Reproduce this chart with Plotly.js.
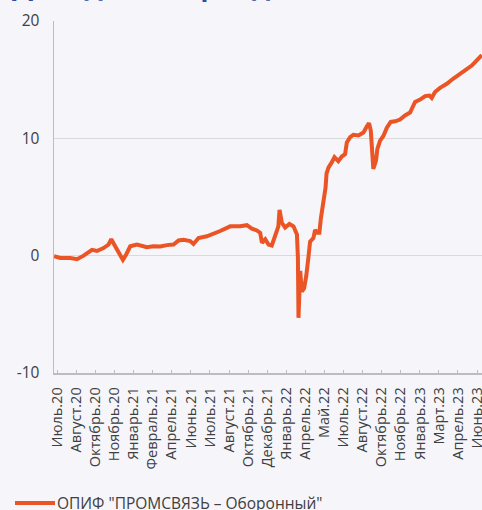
<!DOCTYPE html>
<html>
<head>
<meta charset="utf-8">
<script src="https://cdn.plot.ly/plotly-3.0.1.min.js"></script>
<style>
html,body{margin:0;padding:0;background:#F5F5FA;}
#chart{width:482px;height:510px;}
</style>
</head>
<body>
<div id="chart"></div>
<script>
// Tick labels (category positions 0..22)
const tickLabels = ["Июль.20","Август.20","Октябрь.20","Ноябрь.20","Январь.21","Февраль.21","Апрель.21","Июнь.21","Июль.21","Август.21","Октябрь.21","Декабрь.21","Январь.22","Апрель.22","Май.22","Июль.22","Август.22","Октябрь.22","Ноябрь.22","Январь.23","Март.23","Апрель.23","Июнь.23"];
const tickPositions = tickLabels.map((_, i) => 0.078 + 0.9866 * i);

// Series position (in label units) and value
const xPos = [-0.09,0.23,0.75,1.10,1.44,1.61,1.87,2.13,2.47,2.73,2.87,3.07,3.33,3.47,3.64,3.85,4.20,4.71,5.05,5.40,5.75,6.09,6.35,6.60,6.95,7.12,7.38,7.81,8.50,9.02,9.53,9.88,10.14,10.40,10.57,10.66,10.83,11.00,11.17,11.34,11.51,11.57,11.69,11.86,12.08,12.29,12.47,12.52,12.55,12.64,12.72,12.84,12.95,13.06,13.15,13.32,13.41,13.50,13.63,13.71,13.84,13.95,14.00,14.10,14.27,14.41,14.61,14.79,14.96,15.05,15.22,15.39,15.65,15.91,16.08,16.20,16.29,16.34,16.42,16.56,16.63,16.77,16.94,17.12,17.32,17.55,17.80,18.06,18.32,18.58,18.84,19.10,19.32,19.44,19.61,19.87,20.22,20.56,20.90,21.25,21.51,21.77,22.03];
const fundValues = [-0.05,-0.2,-0.2,-0.3,0.0,0.2,0.5,0.4,0.65,0.95,1.4,0.8,0.15,-0.35,0.1,0.8,0.95,0.72,0.8,0.78,0.9,0.95,1.3,1.35,1.25,1.0,1.5,1.65,2.1,2.5,2.5,2.6,2.3,2.15,1.95,1.1,1.4,0.95,0.87,1.8,2.5,3.9,2.8,2.4,2.7,2.5,1.8,-0.2,-5.3,-1.3,-3.05,-2.8,-1.75,-0.2,1.2,1.5,2.2,1.95,1.95,3.2,4.6,5.8,7.0,7.5,7.95,8.4,8.05,8.45,8.65,9.65,10.1,10.3,10.25,10.5,11.0,11.3,10.65,9.4,7.4,8.1,9.1,9.8,10.2,10.9,11.4,11.45,11.6,11.95,12.2,13.1,13.3,13.6,13.65,13.45,13.95,14.3,14.65,15.1,15.5,15.95,16.2,16.65,17.1];

const seriesName = 'ОПИФ "ПРОМСВЯЗЬ – Оборонный"';
const titleText = 'Доходность фонда';

const FONT = 'Open Sans, sans-serif';
const LINE_COLOR = '#EB5424';

const trace = {
  x: xPos, y: fundValues, type: 'scatter', mode: 'lines',
  name: seriesName, showlegend: false,
  line: {color: LINE_COLOR, width: 4, shape: 'linear'}
};

const legendY = (373 - 503) / 352;

const layout = {
  width: 482, height: 510,
  paper_bgcolor: '#F5F5FA', plot_bgcolor: '#F5F5FA',
  margin: {l: 54, r: 0, t: 21, b: 137},
  font: {family: FONT, color: '#404040'},
  showlegend: false,
  xaxis: {
    range: [-0.093, 22.04], tickmode: 'array', tickvals: tickPositions, ticktext: tickLabels,
    tickangle: -90, tickfont: {family: FONT, size: 14.5, color: '#404040'},
    ticklabeloverflow: 'allow',
    showgrid: false, zeroline: false, showline: true, linecolor: '#BDBDBD', linewidth: 1.5,
    ticks: 'inside', ticklen: 3, tickcolor: '#BDBDBD', ticklabelstandoff: 7
  },
  yaxis: {
    range: [-10, 20], tickvals: [-10, 0, 10, 20], ticktext: ['-10','0','10','20'],
    tickfont: {family: FONT, size: 15.5, color: '#404040'},
    showgrid: true, gridcolor: '#DADADA', gridwidth: 1.5,
    zeroline: true, zerolinecolor: '#DADADA', zerolinewidth: 1.5,
    showline: true, linecolor: '#BDBDBD', linewidth: 1.5, ticks: '', ticklabelstandoff: 10
  },
  shapes: [{
    type: 'line', xref: 'paper', yref: 'paper',
    x0: (15 - 54) / 428, x1: (55 - 54) / 428, y0: legendY, y1: legendY,
    line: {color: LINE_COLOR, width: 4}
  }],
  annotations: [{
    text: '<b>' + titleText + '</b>', xref: 'paper', yref: 'paper',
    x: (10 - 54) / 428, xanchor: 'left', y: 1.0445, yanchor: 'bottom', showarrow: false,
    font: {family: FONT, size: 28, color: '#2A4FA0'}
  }, {
    text: seriesName, xref: 'paper', yref: 'paper',
    x: (55 - 54) / 428, xanchor: 'left', y: legendY, yanchor: 'middle', showarrow: false,
    font: {family: FONT, size: 15.5, color: '#404040'}
  }]
};

Plotly.newPlot('chart', [trace], layout, {displayModeBar: false, staticPlot: true});
</script>
</body>
</html>
